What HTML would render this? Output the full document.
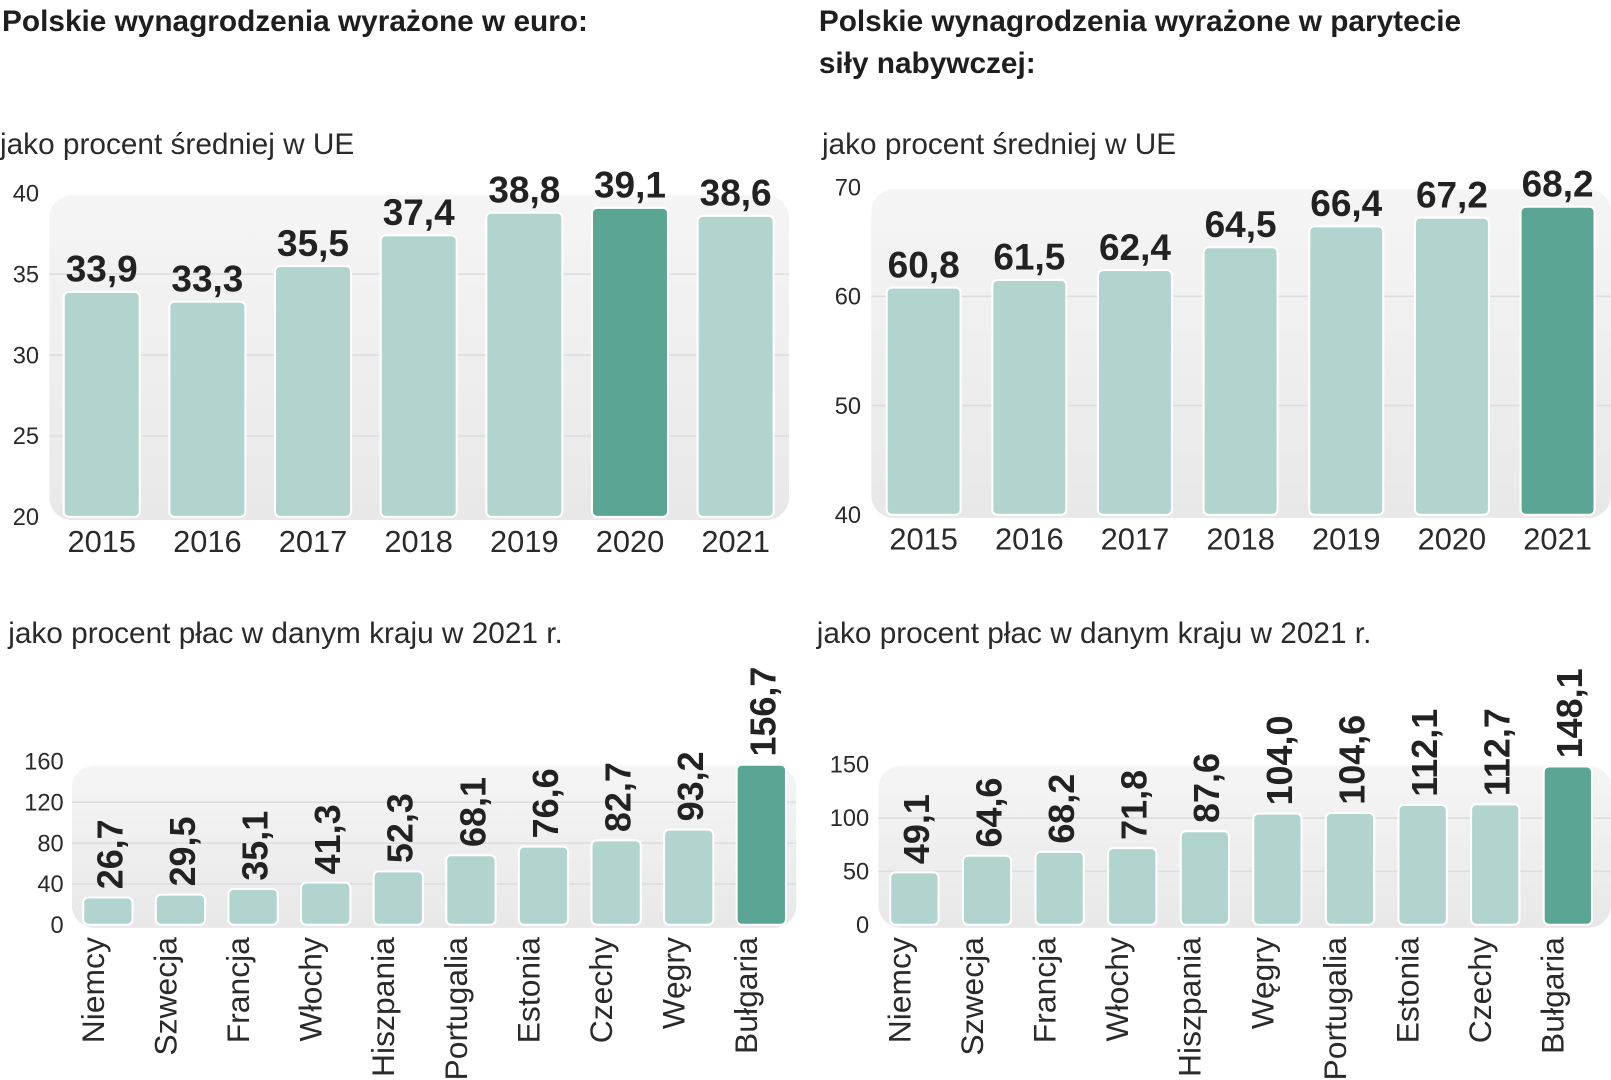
<!DOCTYPE html>
<html><head><meta charset="utf-8">
<style>
html,body{margin:0;padding:0;background:#fff;}
svg{display:block;}
.t{font-family:"Liberation Sans Narrow","Liberation Sans",sans-serif;font-weight:bold;fill:#1e1e1e;}
.s{font-family:"Liberation Sans",sans-serif;fill:#2a2a2a;}
.v{font-family:"Liberation Sans Narrow","Liberation Sans",sans-serif;font-weight:bold;fill:#222;}
</style></head>
<body>
<svg id="svg" width="1611" height="1080" viewBox="0 0 1568 1051" xmlns="http://www.w3.org/2000/svg">
<defs>
<linearGradient id="pg" x1="0" y1="0" x2="0" y2="1">
<stop offset="0" stop-color="#f5f5f5"/><stop offset="1" stop-color="#e8e8e8"/>
</linearGradient>
</defs>
<text class="t" x="2" y="30" font-size="29">Polskie wynagrodzenia wyrażone w euro:</text>
<text class="t" x="797" y="30" font-size="29">Polskie wynagrodzenia wyrażone w parytecie</text>
<text class="t" x="797" y="71" font-size="29">siły nabywczej:</text>
<text class="s" x="0" y="150" font-size="29" font-weight="300">jako procent średniej w UE</text>
<text class="s" x="800" y="150" font-size="29">jako procent średniej w UE</text>
<text class="s" x="8" y="626" font-size="29">jako procent płac w danym kraju w 2021 r.</text>
<text class="s" x="795" y="626" font-size="29">jako procent płac w danym kraju w 2021 r.</text>
</svg>
<script>
const years = ["2015","2016","2017","2018","2019","2020","2021"];
const euroValues = [33.9,33.3,35.5,37.4,38.8,39.1,38.6];
const euroTicks = [20,25,30,35,40];
const pppValues = [60.8,61.5,62.4,64.5,66.4,67.2,68.2];
const pppTicks = [40,50,60,70];
const countriesEuro = ["Niemcy","Szwecja","Francja","Włochy","Hiszpania","Portugalia","Estonia","Czechy","Węgry","Bułgaria"];
const countryEuroValues = [26.7,29.5,35.1,41.3,52.3,68.1,76.6,82.7,93.2,156.7];
const countryEuroTicks = [0,40,80,120,160];
const countriesPpp = ["Niemcy","Szwecja","Francja","Włochy","Hiszpania","Węgry","Portugalia","Estonia","Czechy","Bułgaria"];
const countryPppValues = [49.1,64.6,68.2,71.8,87.6,104.0,104.6,112.1,112.7,148.1];
const countryPppTicks = [0,50,100,150];

const svg = document.getElementById('svg');
const NS = "http://www.w3.org/2000/svg";
function mk(tag, attrs, parent){const e=document.createElementNS(NS,tag);for(const k in attrs)e.setAttribute(k,attrs[k]);(parent||svg).appendChild(e);return e;}
function fmt(v){return v.toFixed(1).replace('.',',');}

function chart(cfg){
  const g = mk('g',{});
  
  
  const y = v => cfg.y0 - (v - cfg.min)/(cfg.max-cfg.min)*(cfg.y0-cfg.y1);
  const n = cfg.cats.length;
  const xc = i => cfg.xFirst + i*(cfg.xLast-cfg.xFirst)/(n-1);
  const panel = mk('rect',{x:cfg.px0,y:cfg.py0,width:cfg.px1-cfg.px0,height:cfg.y0+3-cfg.py0,rx:22,fill:'url(#pg)'},g);
  
  
  cfg.ticks.forEach(t=>{
    if(t!==cfg.min && t!==cfg.max){
      const gl = mk('line',{x1:cfg.px0,x2:cfg.px1,y1:y(t),y2:y(t),stroke:'#dcdde3','stroke-width':1.5},g);
      
      
    }
    const tl = mk('text',{x:cfg.tickX,y:y(t)+8,'font-size':cfg.tickSize,'text-anchor':'end',class:'s'},g);
    tl.textContent = t;
    
    
  });
  cfg.vals.forEach((v,i)=>{
    const hi = i===cfg.hi;
    const b = mk('rect',{x:xc(i)-cfg.bw/2,y:y(v),width:cfg.bw,height:cfg.y0-y(v),rx:5,fill:hi?'#5ba595':'#b1d4ce',stroke:'#fff','stroke-width':2},g);
    
    
    let vl;
    if(cfg.rot){
      vl = mk('text',{x:0,y:0,'font-size':cfg.valSize,class:'v',transform:`translate(${xc(i)+14},${y(v)-8}) rotate(-90)`},g);
    } else {
      vl = mk('text',{x:xc(i),y:y(v)-10,'font-size':cfg.valSize,'text-anchor':'middle',class:'v'},g);
    }
    vl.textContent = fmt(v);
    
    
    let cl;
    if(cfg.rot){
      cl = mk('text',{x:0,y:0,'font-size':cfg.catSize,'text-anchor':'end',class:'s',transform:`translate(${xc(i)-4},${cfg.y0+12}) rotate(-90)`},g);
    } else {
      cl = mk('text',{x:xc(i),y:cfg.y0+34,'font-size':cfg.catSize,'text-anchor':'middle',class:'s'},g);
    }
    cl.textContent = cfg.cats[i];
    
    
  });
}
chart({name:'chart-euro-eu',cats:years,vals:euroValues,ticks:euroTicks,min:20,max:40,y0:503,y1:188,xFirst:99,xLast:716,bw:74,px0:48,px1:768,py0:190,tickX:38,tickSize:23,valSize:36,catSize:30,hi:5,rot:false});
chart({name:'chart-ppp-eu',cats:years,vals:pppValues,ticks:pppTicks,min:40,max:70,y0:501,y1:182,xFirst:899,xLast:1516,bw:72,px0:848,px1:1568,py0:184,tickX:838,tickSize:23,valSize:36,catSize:30,hi:6,rot:false});
chart({name:'chart-euro-country',cats:countriesEuro,vals:countryEuroValues,ticks:countryEuroTicks,min:0,max:160,y0:900,y1:741,xFirst:105,xLast:741,bw:48,px0:70,px1:775,py0:745,tickX:62,tickSize:23,valSize:35,catSize:31,hi:9,rot:true});
chart({name:'chart-ppp-country',cats:countriesPpp,vals:countryPppValues,ticks:countryPppTicks,min:0,max:150,y0:900,y1:744,xFirst:890,xLast:1526,bw:47,px0:855,px1:1568,py0:745,tickX:846,tickSize:23,valSize:35,catSize:31,hi:9,rot:true});
</script>
</body></html>
